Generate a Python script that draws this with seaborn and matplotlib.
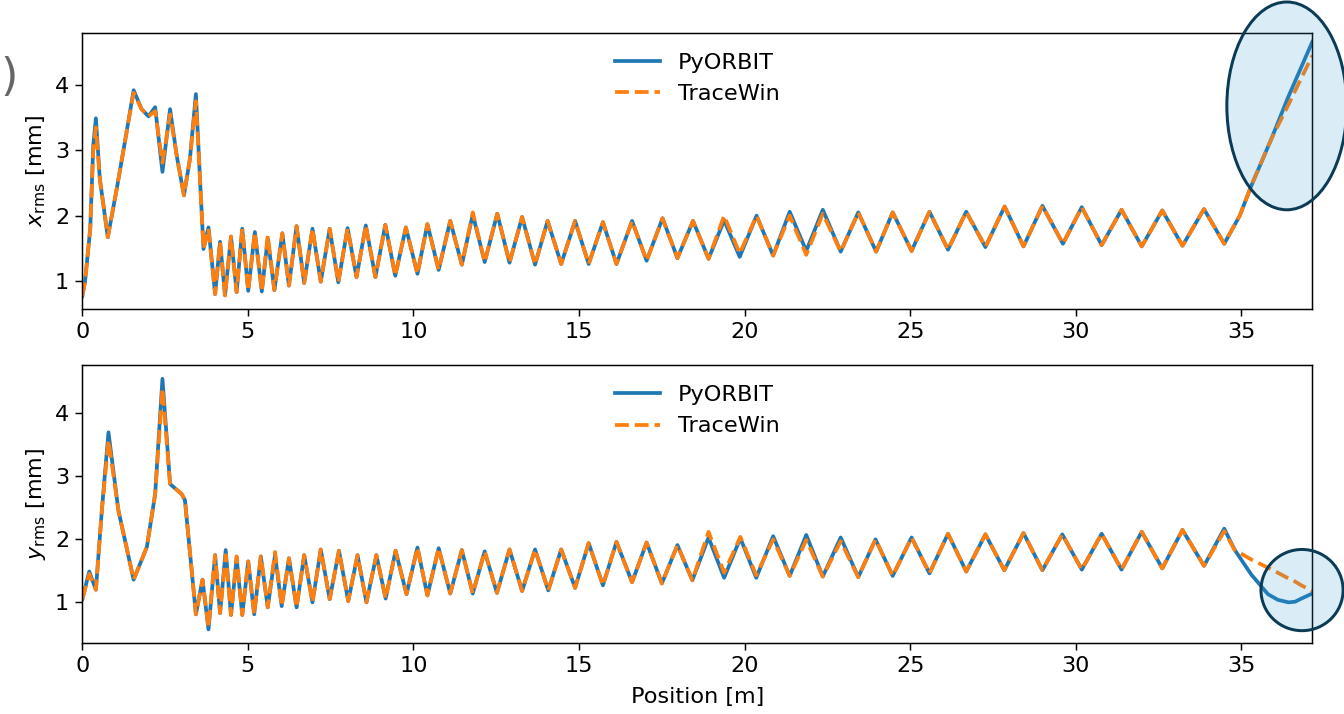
import matplotlib
matplotlib.use("Agg")
import matplotlib.pyplot as plt
from matplotlib.patches import Ellipse
import seaborn as sns
import pandas as pd

# ---------------- data ----------------
pos_x = [0.00, 0.08, 0.24, 0.33, 0.41, 0.53, 0.77, 1.04, 1.30, 1.55, 1.79, 2.00, 2.20, 2.42,
         2.65, 2.85, 3.07, 3.25, 3.43, 3.55, 3.66, 3.81, 4.01, 4.16, 4.31, 4.49, 4.66, 4.83,
         5.01, 5.21, 5.42, 5.60, 5.80, 6.04, 6.24, 6.47, 6.70, 6.95, 7.20, 7.47, 7.73, 8.01,
         8.28, 8.56, 8.85, 9.15, 9.45, 9.77, 10.12, 10.42, 10.76, 11.11, 11.46, 11.79, 12.15,
         12.53, 12.90, 13.28, 13.67, 14.05, 14.46, 14.88, 15.29, 15.72, 16.13, 16.60, 17.04,
         17.52, 17.97, 18.44, 18.91, 19.38, 19.85, 20.36, 20.86, 21.36, 21.86, 22.36, 22.90,
         23.43, 23.97, 24.47, 25.04, 25.58, 26.14, 26.69, 27.27, 27.85, 28.42, 28.99, 29.61,
         30.18, 30.78, 31.38, 31.99, 32.61, 33.22, 33.87, 34.48, 34.95, 35.30, 35.90, 36.40,
         37.14]
xrms_pyorbit = [0.77, 0.98, 1.80, 3.07, 3.49, 2.56, 1.67, 2.41, 3.17, 3.92, 3.63, 3.52, 3.66, 2.67,
                3.63, 2.92, 2.31, 2.87, 3.86, 2.60, 1.49, 1.82, 0.80, 1.60, 0.78, 1.68, 0.83, 1.80,
                0.85, 1.75, 0.84, 1.65, 0.86, 1.73, 0.93, 1.84, 0.97, 1.80, 0.99, 1.80, 0.98, 1.81,
                1.06, 1.85, 1.06, 1.86, 1.08, 1.82, 1.11, 1.87, 1.17, 1.92, 1.25, 2.02, 1.29,
                2.03, 1.28, 1.98, 1.25, 1.92, 1.26, 1.92, 1.26, 1.90, 1.26, 1.92, 1.31,
                1.96, 1.35, 1.92, 1.34, 1.93, 1.37, 2.00, 1.39, 2.06, 1.46, 2.09, 1.45,
                2.05, 1.45, 2.05, 1.46, 2.06, 1.48, 2.06, 1.52, 2.14, 1.53, 2.15, 1.57,
                2.13, 1.55, 2.09, 1.53, 2.08, 1.54, 2.10, 1.57, 2.00, 2.46, 3.17, 3.80,
                4.66]
xrms_tracewin = [0.77, 0.98, 1.80, 3.00, 3.35, 2.56, 1.67, 2.41, 3.17, 3.88, 3.63, 3.52, 3.60, 2.81,
                 3.55, 2.92, 2.31, 2.87, 3.75, 2.60, 1.49, 1.80, 0.80, 1.60, 0.78, 1.68, 0.83, 1.80,
                 0.85, 1.75, 0.84, 1.70, 0.86, 1.73, 0.93, 1.84, 0.97, 1.80, 0.99, 1.80, 0.98, 1.81,
                 1.06, 1.85, 1.06, 1.86, 1.08, 1.82, 1.11, 1.87, 1.17, 1.92, 1.25, 2.05, 1.29,
                 2.03, 1.28, 1.98, 1.25, 1.92, 1.26, 1.92, 1.26, 1.90, 1.26, 1.92, 1.31,
                 1.96, 1.35, 1.92, 1.34, 2.00, 1.42, 2.00, 1.39, 2.00, 1.40, 2.03, 1.45,
                 2.05, 1.45, 2.05, 1.46, 2.06, 1.48, 2.06, 1.52, 2.14, 1.53, 2.15, 1.57,
                 2.13, 1.55, 2.09, 1.53, 2.08, 1.54, 2.10, 1.57, 2.00, 2.46, 3.17, 3.68,
                 4.45]

pos_y = [0.00, 0.21, 0.41, 0.59, 0.79, 1.09, 1.55, 1.95, 2.20, 2.42, 2.65, 3.00, 3.10, 3.43,
         3.63, 3.81, 4.01, 4.16, 4.33, 4.49, 4.66, 4.83, 5.01, 5.19, 5.39, 5.60, 5.82, 6.02,
         6.24, 6.47, 6.70, 6.95, 7.20, 7.47, 7.75, 8.03, 8.31, 8.58, 8.88, 9.16, 9.46, 9.79,
         10.12, 10.42, 10.76, 11.11, 11.46, 11.79, 12.15, 12.52, 12.90, 13.28, 13.67, 14.07,
         14.46, 14.88, 15.29, 15.72, 16.13, 16.60, 17.04, 17.50, 17.97, 18.42, 18.91, 19.38,
         19.87, 20.35, 20.86, 21.36, 21.86, 22.36, 22.90, 23.43, 23.95, 24.47, 25.04, 25.58,
         26.14, 26.69, 27.27, 27.84, 28.42, 28.99, 29.59, 30.18, 30.78, 31.38, 31.99, 32.61,
         33.22, 33.87, 34.48, 34.80, 35.30, 35.80, 36.10, 36.42, 36.62, 36.81, 37.14]
yrms_pyorbit = [1.05, 1.49, 1.20, 2.46, 3.70, 2.46, 1.36, 1.88, 2.72, 4.55, 2.88, 2.72, 2.62, 0.81,
                1.36, 0.57, 1.75, 0.83, 1.83, 0.80, 1.70, 0.80, 1.65, 0.81, 1.73, 0.92, 1.75, 0.94,
                1.70, 0.92, 1.75, 1.00, 1.84, 1.05, 1.82, 1.02, 1.75, 1.00, 1.75, 1.06, 1.82, 1.13,
                1.87, 1.11, 1.86, 1.14, 1.83, 1.14, 1.81, 1.15, 1.84, 1.18, 1.84, 1.19,
                1.84, 1.23, 1.94, 1.27, 1.96, 1.32, 1.95, 1.30, 1.91, 1.35, 2.03, 1.39,
                2.02, 1.39, 2.05, 1.42, 2.07, 1.41, 2.03, 1.40, 2.00, 1.42, 2.03, 1.46,
                2.09, 1.49, 2.08, 1.51, 2.10, 1.51, 2.08, 1.52, 2.09, 1.52, 2.12, 1.54,
                2.15, 1.58, 2.17, 1.83, 1.44, 1.13, 1.04, 1.00, 1.01, 1.06, 1.14]
yrms_tracewin = [1.05, 1.45, 1.20, 2.46, 3.58, 2.46, 1.36, 1.88, 2.72, 4.40, 2.88, 2.72, 2.62, 0.81,
                 1.36, 0.60, 1.75, 0.83, 1.75, 0.80, 1.73, 0.80, 1.65, 0.81, 1.73, 0.92, 1.80, 0.94,
                 1.70, 0.92, 1.75, 1.00, 1.84, 1.05, 1.82, 1.02, 1.75, 1.00, 1.75, 1.06, 1.82, 1.13,
                 1.87, 1.11, 1.86, 1.14, 1.83, 1.14, 1.81, 1.15, 1.84, 1.18, 1.84, 1.19,
                 1.84, 1.23, 1.94, 1.27, 1.96, 1.32, 1.95, 1.30, 1.91, 1.35, 2.12, 1.47,
                 2.04, 1.43, 2.00, 1.42, 1.99, 1.41, 1.97, 1.40, 2.00, 1.42, 2.03, 1.46,
                 2.09, 1.49, 2.08, 1.51, 2.10, 1.51, 2.08, 1.52, 2.09, 1.52, 2.12, 1.54,
                 2.15, 1.58, 2.13, 1.83, 1.68, 1.55, 1.47, 1.38, 1.33, 1.27, 1.18]

codes = ["PyORBIT", "TraceWin"]
ylabels = [r"$x_{\rm rms}$ [mm]", r"$y_{\rm rms}$ [mm]"]
xlabel = "Position [m]"

# ---------------- figure ----------------
plt.rcParams["font.size"] = 12
DPI = 134.4
fig = plt.figure(figsize=(1344 / DPI, 714 / DPI), dpi=DPI)
W, H = 1344, 714
ax_top = fig.add_axes([82.3 / W, 1 - 309.3 / H, (1312.3 - 82.3) / W, (309.3 - 32.7) / H])
ax_bot = fig.add_axes([82.3 / W, 1 - 642.7 / H, (1312.3 - 82.3) / W, (642.7 - 365) / H])

blue, orange = "#1f77b4", "#ff7f0e"

panels = [
    (ax_top, pos_x, xrms_pyorbit, xrms_tracewin, (0.567, 4.80)),
    (ax_bot, pos_y, yrms_pyorbit, yrms_tracewin, (0.359, 4.77)),
]
for i, (ax, s, v_py, v_tw, ylim) in enumerate(panels):
    df = pd.DataFrame({"s": s, "py": v_py, "tw": v_tw})
    sns.lineplot(data=df, x="s", y="py", ax=ax, color=blue, lw=2.0,
                 label=codes[0], estimator=None, sort=False)
    sns.lineplot(data=df, x="s", y="tw", ax=ax, color=orange, lw=2.0,
                 linestyle="--", label=codes[1], estimator=None, sort=False)
    ax.set_xlim(0, 37.14)
    ax.set_ylim(*ylim)
    ax.set_xticks([0, 5, 10, 15, 20, 25, 30, 35])
    ax.set_yticks([1, 2, 3, 4])
    ax.set_ylabel(ylabels[i])
    ax.set_xlabel("")
    ax.legend(loc="upper center", frameon=False)

ax_bot.set_xlabel(xlabel, labelpad=6)

# highlight ellipses
ell_top = Ellipse((36.37, 3.68), width=3.62, height=3.18, facecolor=(0.2, 0.6, 0.8, 0.18),
                  edgecolor="#0b3b55", lw=1.6, clip_on=False, zorder=5)
ax_top.add_patch(ell_top)
ell_bot = Ellipse((36.83, 1.195), width=2.48, height=1.29, facecolor=(0.2, 0.6, 0.8, 0.18),
                  edgecolor="#0b3b55", lw=1.6, clip_on=False, zorder=5)
ax_bot.add_patch(ell_bot)

# panel label fragment
fig.text(0.0, 1 - 90 / H, ")", fontsize=24, color="#666666", ha="left", va="baseline")

fig.savefig("out.png", dpi=DPI)
